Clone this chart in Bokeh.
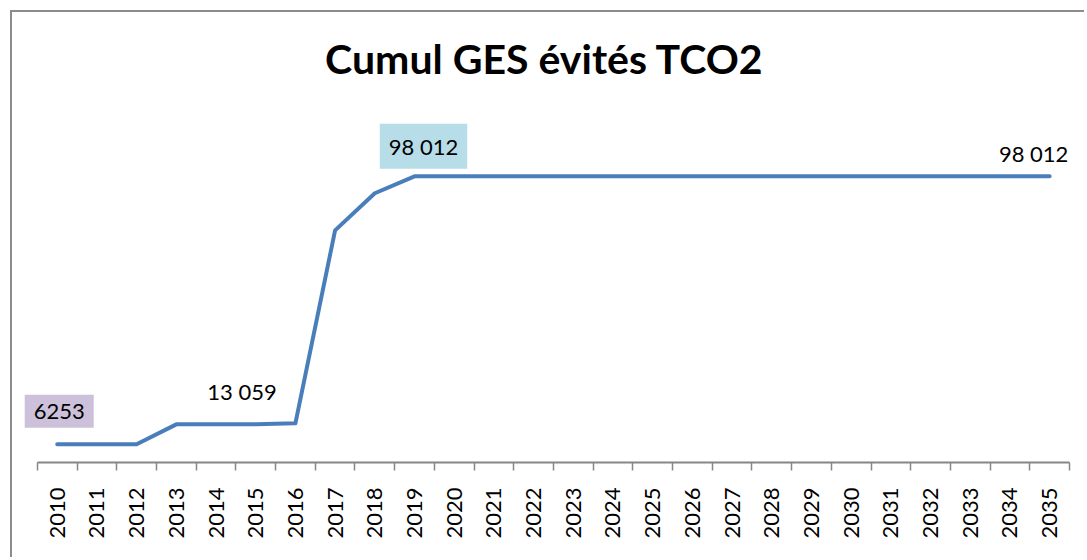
import math
from bokeh.plotting import figure
from bokeh.models import Range1d, FixedTicker, Label, ColumnDataSource
from bokeh.embed import file_html
from bokeh.resources import INLINE

# ---- data ----
years = list(range(2010, 2036))
values = [6253, 6253, 6253, 13059, 13059, 13059, 13400, 79500, 92200, 98012,
          98012, 98012, 98012, 98012, 98012, 98012, 98012, 98012, 98012, 98012,
          98012, 98012, 98012, 98012, 98012, 98012]
tick_labels = [str(y) for y in years]
label_years = [2010, 2014, 2019, 2035]
label_texts = ["6253", "13 059", "98 012", "98 012"]
title_text = "Cumul GES évités TCO2"

FONT = "Lato"
LEFT_PAD = 0.45  # extra room (in categories) left of the first category boundary

idx = list(range(len(years)))
src = ColumnDataSource(dict(x=idx, y=values))

p = figure(width=1074, height=547, output_backend="svg", toolbar_location=None,
           x_range=Range1d(-0.5 - LEFT_PAD, len(years) - 0.5), y_range=Range1d(0, 125000),
           min_border_left=7, min_border_right=17, min_border_top=85,
           min_border_bottom=97, title=title_text)
p.styles = {"border-left": "2px solid #8c8c8c", "border-top": "2px solid #8c8c8c",
            "margin-left": "10px", "margin-top": "10px"}

p.title.align = "center"
p.title.offset = 15
p.title.text_font = FONT
p.title.text_font_style = "bold"
p.title.text_font_size = "41px"
p.title.text_color = "#000000"
p.title.standoff = 29

p.outline_line_color = None
p.xgrid.visible = False
p.ygrid.visible = False
p.yaxis.visible = False

ax = p.xaxis[0]
ax.bounds = (-0.5, len(years) - 0.5)
ax.ticker = FixedTicker(ticks=idx, minor_ticks=[i - 0.5 for i in range(len(years) + 1)])
ax.major_label_overrides = {i: t for i, t in zip(idx, tick_labels)}
ax.major_tick_line_color = None
ax.major_tick_out = 0
ax.major_tick_in = 0
ax.minor_tick_in = 0
ax.minor_tick_out = 8
ax.minor_tick_line_color = "#868686"
ax.minor_tick_line_width = 1.5
ax.axis_line_color = "#868686"
ax.axis_line_width = 2
ax.major_label_orientation = math.pi / 2
ax.major_label_text_font = FONT
ax.major_label_text_font_size = "22px"
ax.major_label_text_color = "#000000"
ax.major_label_standoff = 17

p.line("x", "y", source=src, line_color="#4a7ebb", line_width=4, line_join="round", line_cap="round")

offsets = [(2, 33, "#ccc0da"), (26, 33, None), (9, 30, "#b7dde8"), (-16, 23, None)]
for yr, txt, (dx, dy, bg) in zip(label_years, label_texts, offsets):
    i = years.index(yr)
    lab = Label(x=i, y=values[i], text=txt, x_offset=dx, y_offset=dy,
                text_align="center", text_baseline="middle",
                text_font=FONT, text_font_size="22px", text_color="#000000",
                background_fill_color=bg, padding=9)
    p.add_layout(lab)

open("out.html", "w").write(file_html(p, INLINE))
